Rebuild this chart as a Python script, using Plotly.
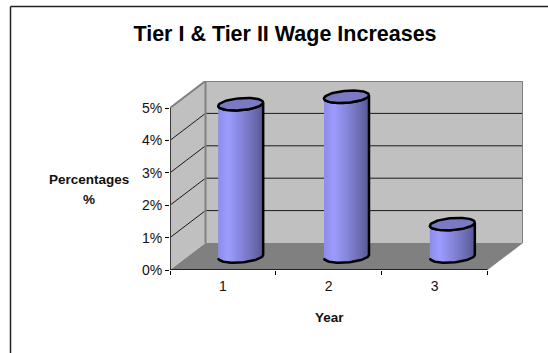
import numpy as np
import plotly.graph_objects as go

years = [1, 2, 3]
year_labels = ["1", "2", "3"]
wage_increase = [4.7, 4.93, 1.0]
pct_ticks = [0, 1, 2, 3, 4, 5]
pct_labels = ["0%", "1%", "2%", "3%", "4%", "5%"]

W, H = 548, 353
L, R, T, B = 170, 523, 81, 270      # plot area in pixels, including depth
DX_PX, DY_PX = 35.5, 27
UX = (R - L - DX_PX) / 3.0          # px per category
UY = (B - T - DY_PX) / 5.0          # px per percent
DX, DY = DX_PX / UX, DY_PX / UY     # depth expressed in data units
X0, X1 = 0.5, 3.5
YMAX = 5

WALL = "#C0C0C0"
FLOOR = "#808080"
EDGE = "#808080"


def path(pts):
    return "M" + " L".join(f"{x:.4f},{y:.4f}" for x, y in pts) + " Z"


def poly(pts, fill, line=None, width=0):
    return dict(type="path", path=path(pts), xref="x", yref="y", layer="below",
                fillcolor=fill, line=dict(color=line or fill, width=width))


def seg(x0, y0, x1, y1, color, width):
    return dict(type="line", x0=x0, y0=y0, x1=x1, y1=y1, xref="x", yref="y",
                layer="below", line=dict(color=color, width=width))


def px(x):
    return (x - L) / (R - L)


def py(y):
    return (B - y) / (B - T)


shapes = [
    poly([(X0 + DX, DY), (X1 + DX, DY), (X1 + DX, YMAX + DY), (X0 + DX, YMAX + DY)], WALL),
    poly([(X0, 0), (X0 + DX, DY), (X0 + DX, YMAX + DY), (X0, YMAX)], WALL),
    poly([(X0, 0), (X1, 0), (X1 + DX, DY), (X0 + DX, DY)], FLOOR),
]
for v in pct_ticks[1:-1]:
    shapes.append(seg(X0 + DX, v + DY, X1 + DX, v + DY, "#1a1a1a", 1))
    shapes.append(seg(X0, v, X0 + DX, v + DY, "#1a1a1a", 1))
shapes += [
    seg(X0, YMAX, X0 + DX, YMAX + DY, EDGE, 2),
    seg(X0 + DX, YMAX + DY, X1 + DX, YMAX + DY, EDGE, 2),
    seg(X1 + DX, YMAX + DY, X1 + DX, DY, EDGE, 2),
    seg(X0 + DX, YMAX + DY, X0 + DX, DY, EDGE, 2),
    seg(X0, 0, X0, YMAX, "#3a3a3a", 2),
    seg(X0, 0, X1, 0, "#000000", 1.5),
]
# chart frame, open at right and bottom as in the picture
for x0, y0, x1, y1 in [(10.5, 6.5, 10.5, H), (10.5, 6.5, W, 6.5)]:
    shapes.append(dict(type="line", xref="paper", yref="paper", x0=px(x0), y0=py(y0),
                       x1=px(x1), y1=py(y1), line=dict(color="#222222", width=1.5),
                       layer="above"))

RX = 22.5 / UX
RY = 6.0 / UY
TILT = 1.7 / UY
t_lower = np.linspace(np.pi, 2 * np.pi, 40)
t_full = np.linspace(0, 2 * np.pi, 80)
GRAD = [[0, "#8C8CEA"], [0.22, "#9C9CFF"], [0.5, "#8686DC"], [0.8, "#6C6CB2"], [1, "#565694"]]

fig = go.Figure()
for yr, val in zip(years, wage_increase):
    cx = yr + DX / 2
    base = DY / 2
    top = base + val
    bx = cx + RX * np.cos(t_lower)
    by = base + RY * np.sin(t_lower) + TILT * np.cos(t_lower)
    tx = cx + RX * np.cos(t_lower)[::-1]
    ty = top + RY * np.sin(t_lower)[::-1] + TILT * np.cos(t_lower)[::-1]
    fig.add_trace(go.Scatter(
        x=np.r_[bx, tx], y=np.r_[by, ty], mode="lines", fill="toself",
        fillgradient=dict(type="horizontal", colorscale=GRAD),
        line=dict(color="#000000", width=2.5), showlegend=False, hoverinfo="skip"))
    fig.add_trace(go.Scatter(
        x=cx + RX * np.cos(t_full), y=top + RY * np.sin(t_full) + TILT * np.cos(t_full),
        mode="lines", fill="toself", fillcolor="#7A7AC4",
        line=dict(color="#000000", width=2.5), showlegend=False, hoverinfo="skip"))

FONT = "Liberation Sans, Arial, sans-serif"
ax_font = dict(size=13.5, family=FONT)
fig.update_layout(
    width=W, height=H, autosize=False,
    margin=dict(l=L, r=W - R, t=T, b=H - B, pad=0),
    paper_bgcolor="#FFFFFF", plot_bgcolor="#FFFFFF",
    font=dict(family=FONT, size=14, color="#111111"),
    shapes=shapes, showlegend=False,
    title=dict(text="<b>Tier I &amp; Tier II Wage Increases</b>", font=dict(size=21.5, family=FONT, color="#000000"),
               x=285 / W, xanchor="center", y=1 - 33 / H, yanchor="middle", xref="container"),
    xaxis=dict(range=[X0, X1 + DX], tickvals=years, ticktext=year_labels, ticks="", showgrid=False,
               zeroline=False, showline=False, tickfont=dict(size=14), ticklabelstandoff=6,
               minor=dict(tickvals=[0.5, 1.5, 2.5, 3.5], ticks="outside", ticklen=4,
                          tickcolor="#000000", tickwidth=1, showgrid=False)),
    yaxis=dict(range=[0, YMAX + DY], tickvals=pct_ticks, ticktext=pct_labels, ticks="outside",
               ticklen=4, tickcolor="#000000", tickwidth=1, showgrid=False, zeroline=False,
               showline=False, tickfont=dict(size=14)),
    annotations=[
        dict(text="<b>Percentages</b>", xref="paper", yref="paper", x=px(89), y=py(179),
             showarrow=False, font=ax_font, xanchor="center", yanchor="middle"),
        dict(text="<b>%</b>", xref="paper", yref="paper", x=px(89), y=py(199),
             showarrow=False, font=ax_font, xanchor="center", yanchor="middle"),
        dict(text="<b>Year</b>", xref="paper", yref="paper", x=px(329), y=py(317),
             showarrow=False, font=ax_font, xanchor="center", yanchor="middle"),
    ],
)

fig.write_html("out.html", config={"displayModeBar": False},
               post_script="document.body.style.margin='0';")
